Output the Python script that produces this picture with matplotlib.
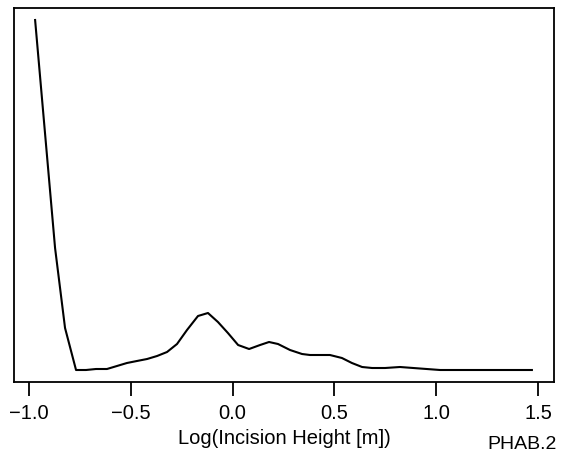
# density of log incision height, R-style plot

import numpy as np
from matplotlib import pyplot as plt

plt.rcParams['font.family'] = ['Liberation Sans', 'DejaVu Sans']

log_height = [-0.970, -0.921, -0.872, -0.823, -0.769, -0.720, -0.671, -0.617,
              -0.568, -0.519, -0.470, -0.420, -0.371, -0.322, -0.273, -0.224,
              -0.170, -0.121, -0.072, -0.023, 0.027, 0.081, 0.135, 0.179,
              0.223, 0.282, 0.341, 0.380, 0.429, 0.478, 0.537, 0.586,
              0.636, 0.685, 0.749, 0.822, 0.920, 1.019, 1.215, 1.470]
density = [3.52, 2.38, 1.24, 0.44, 0.02, 0.02, 0.03, 0.03,
           0.06, 0.09, 0.11, 0.13, 0.16, 0.20, 0.28, 0.42,
           0.56, 0.59, 0.50, 0.39, 0.27, 0.23, 0.27, 0.30,
           0.28, 0.22, 0.18, 0.17, 0.17, 0.17, 0.14, 0.09,
           0.05, 0.04, 0.04, 0.05, 0.035, 0.02, 0.02, 0.02]
xticks = [-1.0, -0.5, 0.0, 0.5, 1.0, 1.5]

fig = plt.figure(figsize=(5.66, 4.55), dpi=100)
ax = fig.add_axes([14/566, 1-382/455, 540/566, 374/455])
ax.plot(log_height, density, color='black', lw=1.5)

ax.set_xlim(-1.0737, 1.5786)
ax.set_ylim(-0.10, 3.64)
ax.set_yticks([])
ax.set_xticks(xticks)
ax.set_xticklabels([f"{t:.1f}".replace('-', '\u2212') for t in xticks])
ax.tick_params(axis='x', length=10, width=1.3, pad=6, labelsize=14.5)
for s in ax.spines.values():
    s.set_linewidth(1.3)
ax.set_xlabel("Log(Incision Height [m])", fontsize=14.5, labelpad=4)

fig.text(487/566, 1-436/455, "PHAB.2", fontsize=14, va='top', ha='left')

plt.savefig('out.png', dpi=100)
